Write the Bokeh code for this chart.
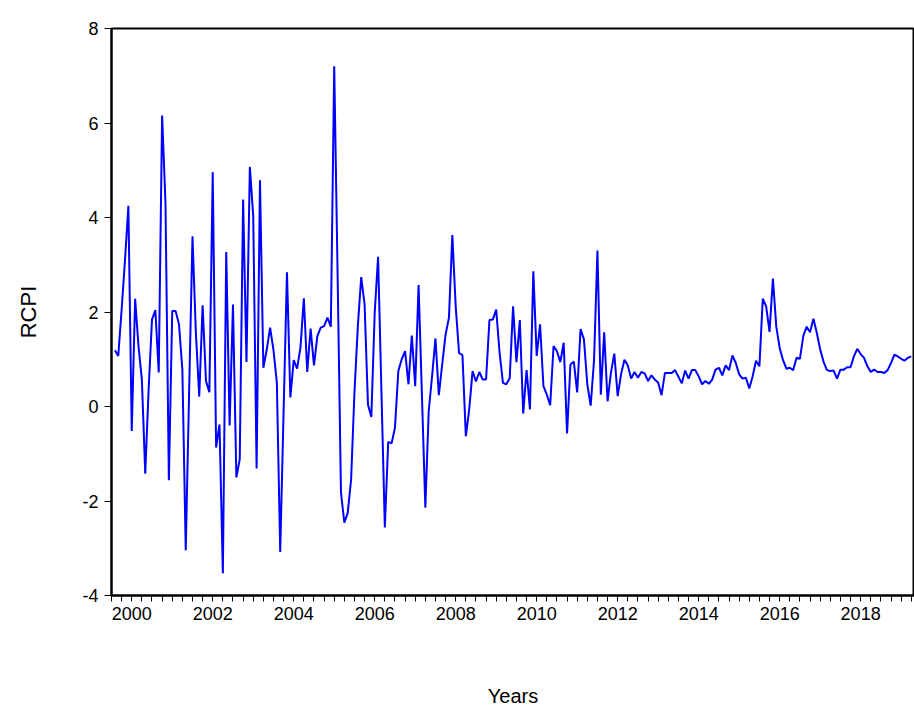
from bokeh.plotting import figure
from bokeh.models import FixedTicker, Range1d
from bokeh.embed import file_html
from bokeh.resources import INLINE

rcpi = [
    1.19, 1.07, 2.05, 3.1, 4.25, -0.52, 2.28, 1.28, 0.57, -1.42, 0.36, 1.84, 2.04, 0.72, 6.16, 4.3,
    -1.56, 2.02, 2.02, 1.74, 0.78, -3.04, 0.3, 3.6, 1.56, 0.21, 2.14, 0.54, 0.3,
    4.96, -0.87, -0.38, -3.53, 3.27, -0.40, 2.16, -1.5, -1.12, 4.38, 0.94, 5.07, 4.03, -1.31, 4.79,
    0.82, 1.2, 1.67, 1.2, 0.5, -3.08, -0.1, 2.84, 0.19, 0.98, 0.8, 1.25, 2.29, 0.73,
    1.65, 0.87, 1.49, 1.67, 1.70, 1.88, 1.69, 7.2, 2.8, -1.82, -2.46, -2.25, -1.55, 0.3, 1.7, 2.74,
    2.16, 0.04, -0.22, 1.99, 3.17, 0.29, -2.56, -0.75, -0.78, -0.45, 0.75, 1.0, 1.17, 0.47,
    1.5, 0.43, 2.57, 0.22, -2.14, -0.1, 0.64, 1.44, 0.24, 0.89, 1.52, 1.88, 3.63, 2.12, 1.13, 1.09,
    -0.63, -0.06, 0.75, 0.53, 0.73, 0.57, 0.57, 1.83, 1.84, 2.05, 1.14, 0.5, 0.47, 0.6,
    2.12, 0.94, 1.83, -0.15, 0.77, -0.06, 2.86, 1.07, 1.74, 0.43, 0.25, 0.03, 1.28, 1.17, 0.94, 1.35,
    -0.57, 0.89, 0.95, 0.30, 1.64, 1.42, 0.47, 0.02, 0.99, 3.30, 0.25, 1.57, 0.11, 0.71, 1.12, 0.22,
    0.68,
    0.99, 0.87, 0.59, 0.73, 0.61, 0.73, 0.70, 0.54, 0.66, 0.57,
    0.51, 0.24, 0.71, 0.71, 0.71, 0.77, 0.63, 0.49, 0.76, 0.59,
    0.77, 0.77, 0.64, 0.47, 0.54, 0.48, 0.57, 0.78, 0.82, 0.66,
    0.87, 0.77, 1.08, 0.92, 0.68, 0.59, 0.61, 0.38, 0.64, 0.97,
    0.85, 2.28, 2.12, 1.58, 2.71, 1.69, 1.24, 0.98, 0.80, 0.82,
    0.77, 1.03, 1.01, 1.49, 1.69, 1.57, 1.86, 1.56, 1.21, 0.95,
    0.77, 0.75, 0.76, 0.59, 0.78, 0.78, 0.83, 0.83, 1.06, 1.22,
    1.11, 1.03, 0.85, 0.73, 0.78, 0.73, 0.73, 0.71, 0.77, 0.92,
    1.10, 1.06, 1.01, 0.97, 1.03, 1.06,
]
# monthly observations starting Feb 2000
dates = [2000 + (i + 1) / 12 for i in range(len(rcpi))]

year_labels = [str(y) for y in range(2000, 2020, 2)]
y_ticks = [-4, -2, 0, 2, 4, 6, 8]

p = figure(width=914, height=709, output_backend="svg", toolbar_location=None,
           x_range=Range1d(2000, 2019.83), y_range=Range1d(-4, 8),
           x_axis_label="Years", y_axis_label="RCPI",
           min_border_left=111, min_border_right=0, min_border_top=28, min_border_bottom=113)
p.line(dates, rcpi, line_color="#0000FF", line_width=2)

p.xgrid.visible = False
p.ygrid.visible = False
p.outline_line_color = "black"
p.outline_line_width = 2

label_pos = [int(s) + 0.5 for s in year_labels]
quarters = [2000 + q / 4 for q in range(0, 80)]
p.xaxis.ticker = FixedTicker(ticks=label_pos, minor_ticks=quarters)
p.xaxis.major_label_overrides = {pos: lab for pos, lab in zip(label_pos, year_labels)}
p.xaxis.major_tick_out = 0
p.xaxis.major_tick_in = 0
p.xaxis.minor_tick_out = 6
p.xaxis.minor_tick_in = 0
p.yaxis.ticker = FixedTicker(ticks=y_ticks, minor_ticks=[])
p.yaxis.major_tick_out = 7
p.yaxis.major_tick_in = 0
p.yaxis.major_label_overrides = {v: str(v) for v in y_ticks}

for ax in (p.xaxis, p.yaxis):
    ax.axis_line_color = "black"
    ax.axis_line_width = 2
    ax.major_label_text_font = "Liberation Sans"
    ax.major_label_text_font_size = "18px"
    ax.major_label_text_color = "black"
    ax.axis_label_text_font = "Liberation Sans"
    ax.axis_label_text_font_style = "normal"
    ax.axis_label_text_color = "black"
p.xaxis.axis_label_text_font_size = "20px"
p.yaxis.axis_label_text_font_size = "22px"
p.xaxis.axis_label_standoff = 62
p.yaxis.axis_label_standoff = 38
p.yaxis.major_label_standoff = 6

open("out.html", "w").write(file_html(p, INLINE))
